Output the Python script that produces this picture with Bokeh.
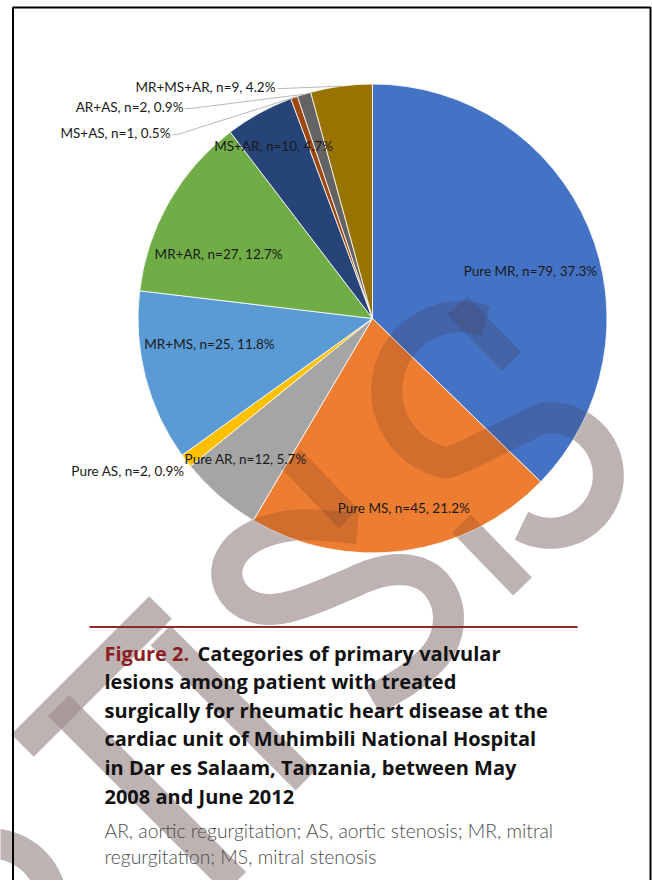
import math
from bokeh.plotting import figure
from bokeh.models import Range1d, ColumnDataSource
from bokeh.core.properties import value
from bokeh.embed import file_html
from bokeh.resources import INLINE

# ---------------- data ----------------
categories = ["Pure MR", "Pure MS", "Pure AR", "Pure AS", "MR+MS",
              "MR+AR", "MS+AR", "MS+AS", "AR+AS", "MR+MS+AR"]
counts = [79, 45, 12, 2, 25, 27, 10, 1, 2, 9]
percents = [37.3, 21.2, 5.7, 0.9, 11.8, 12.7, 4.7, 0.5, 0.9, 4.2]

title_prefix = "Figure 2."
title_lines = ["Categories of primary valvular",
               "lesions among patient with treated",
               "surgically for rheumatic heart disease at the",
               "cardiac unit of Muhimbili National Hospital",
               "in Dar es Salaam, Tanzania, between May",
               "2008 and June 2012"]
note_lines = ["AR, aortic regurgitation; AS, aortic stenosis; MR, mitral",
              "regurgitation; MS, mitral stenosis"]

# ---------------- styles / layout ----------------
colors = ["#4472C4", "#ED7D31", "#A5A5A5", "#FFC000", "#5B9BD5",
          "#70AD47", "#264478", "#9E480E", "#636363", "#997300"]
W, H = 652, 880
def tx(sx): return sx
def ty(sy): return H - sy

CX, CY, R = 372, 318, 234.5        # screen coords of pie centre, radius
# inside labels: (angle shift from wedge mid in degrees cw, radius fraction)
inside_layout = {"Pure MR": (6.3, 0.703), "Pure MS": (-1.7, 0.821),
                 "Pure AR": (1.4, 0.806), "MR+MS": (5.4, 0.704),
                 "MR+AR": (-7.1, 0.711), "MS+AR": (-0.9, 0.849)}
# outside labels: right end anchor (screen), leader?
outside_layout = {"Pure AS": (184, 470, False), "MS+AS": (170, 132, True),
                  "AR+AS": (183, 106, True), "MR+MS+AR": (275, 86, True)}

p = figure(width=W, height=H, x_range=Range1d(0, W), y_range=Range1d(0, H),
           output_backend="svg", toolbar_location=None,
           x_axis_type=None, y_axis_type=None, min_border=0)
p.grid.visible = False
p.outline_line_color = None
p.background_fill_color = "white"
p.border_fill_color = "white"

# ---------------- watermark geometry ----------------
def arc_pts(cx, cy, r, a0, a1, n=40):
    pts = []
    for i in range(n + 1):
        a = math.radians(a0 + (a1 - a0) * i / n)
        pts.append((cx + r * math.cos(a), cy - r * math.sin(a)))
    return pts

def chaikin(pts, n=3):
    for _ in range(n):
        out = [pts[0]]
        for (x0, y0), (x1, y1) in zip(pts[:-1], pts[1:]):
            out.append((0.75 * x0 + 0.25 * x1, 0.75 * y0 + 0.25 * y1))
            out.append((0.25 * x0 + 0.75 * x1, 0.25 * y0 + 0.75 * y1))
        out.append(pts[-1])
        pts = out
    return pts

wm_paths, wm_widths = [], []
wm_paths.append(chaikin(arc_pts(460, 390, 74, 70, 262, 24) +
                        arc_pts(550, 475, 58, 100, -120, 24), 2))
wm_widths.append(31)
wm_paths.append([(457, 305), (511, 361)]); wm_widths.append(27)
wm_paths.append([(461, 523), (522, 586)]); wm_widths.append(26)
wm_paths.append([(290, 458), (348, 518)]); wm_widths.append(27)
wm_paths.append(chaikin([(357, 528), (290, 522), (240, 540), (222, 572),
                         (238, 603), (275, 612), (330, 592), (385, 567),
                         (428, 572), (450, 605), (445, 645), (415, 675),
                         (372, 700)], 3))
wm_widths.append(31)
wm_paths.append([(22, 745), (160, 607)]); wm_widths.append(32)
wm_paths.append([(58, 705), (235, 882)]); wm_widths.append(30)
wm_paths.append([(160, 635), (305, 780)]); wm_widths.append(28)
wm_paths.append(arc_pts(-10, 905, 62, 95, -5)); wm_widths.append(30)
wm_xs = [[tx(a) for a, b in pth] for pth in wm_paths]
wm_ys = [[ty(b) for a, b in pth] for pth in wm_paths]

# watermark under-layer (visible only off the pie)
p.multi_line(xs=wm_xs, ys=wm_ys, line_color="#D6D1D0", line_width=wm_widths,
             line_join="round", line_cap="butt")

# ---------------- pie ----------------
total = sum(counts)
starts, ends, mids = [], [], []
acc = 0
for c in counts:
    starts.append(math.pi / 2 - 2 * math.pi * acc / total)
    mids.append(360.0 * (acc + c / 2) / total)  # cw degrees from top
    acc += c
    ends.append(math.pi / 2 - 2 * math.pi * acc / total)

src = ColumnDataSource(dict(x=[tx(CX)] * len(counts), y=[ty(CY)] * len(counts),
                            start=starts, end=ends, color=colors))
p.wedge(x="x", y="y", radius=R, start_angle="start", end_angle="end",
        direction="clock", fill_color="color", line_color="white",
        line_width=0.8, source=src)

# watermark over-layer
p.multi_line(xs=wm_xs, ys=wm_ys, line_color="#462323", line_alpha=0.17,
             line_width=wm_widths, line_join="round", line_cap="butt")

# ---------------- labels ----------------
lab_font = value("Lato")
in_x, in_y, in_t = [], [], []
out_x, out_y, out_t = [], [], []
lead_xs, lead_ys = [], []
for i, cat in enumerate(categories):
    txt = f"{cat}, n={counts[i]}, {percents[i]}%"
    if cat in inside_layout:
        shift, rf = inside_layout[cat]
        a = math.radians(mids[i] + shift)
        sx = CX + rf * R * math.sin(a)
        sy = CY - rf * R * math.cos(a)
        in_x.append(tx(sx)); in_y.append(ty(sy)); in_t.append(txt)
    else:
        ax, ay, lead = outside_layout[cat]
        out_x.append(tx(ax)); out_y.append(ty(ay)); out_t.append(txt)
        if lead:
            a = math.radians(mids[i])
            ex = CX + R * math.sin(a)
            ey = CY - R * math.cos(a)
            lead_xs.append([tx(ax + 2), tx(ax + 7), tx(ex)])
            lead_ys.append([ty(ay + 2), ty(ay + 2), ty(ey)])

p.multi_line(xs=lead_xs, ys=lead_ys, line_color="#A6A6A6", line_width=0.8)
p.text(x=in_x, y=in_y, text=in_t, text_font=lab_font, text_font_size="13.5px",
       text_align="center", text_baseline="middle", text_color="#1A1A1A")
p.text(x=out_x, y=out_y, text=out_t, text_font=lab_font, text_font_size="13.5px",
       text_align="right", text_baseline="middle", text_color="#1A1A1A")

# ---------------- caption ----------------
p.line(x=[tx(89), tx(577)], y=[ty(626.5), ty(626.5)], line_color="#8B2A2A",
       line_width=2)
line_y = [652.6, 681.3, 709.7, 738.4, 767.2, 796.3]
p.text(x=[tx(104)], y=[ty(line_y[0])], text=[title_prefix],
       text_font=value("Open Sans"), text_font_style="bold", text_font_size="20px",
       text_color="#8B1E23", text_baseline="middle", text_align="left")
p.text(x=[tx(197)] + [tx(104)] * (len(title_lines) - 1),
       y=[ty(v) for v in line_y], text=title_lines,
       text_font=value("Open Sans"), text_font_style="bold", text_font_size="20px",
       text_color="#111111", text_baseline="middle", text_align="left")
p.text(x=[tx(104)] * 2, y=[ty(830), ty(856)], text=note_lines,
       text_font=value("Lato Light, Lato"), text_font_size="19.3px",
       text_color="#4D4D4D", text_baseline="middle", text_align="left")

# ---------------- frame ----------------
p.multi_line(xs=[[tx(12.5), tx(12.5), tx(650), tx(650)]],
             ys=[[ty(885), ty(7), ty(7), ty(885)]],
             line_color="black", line_width=2)

open("out.html", "w").write(file_html(p, INLINE))
